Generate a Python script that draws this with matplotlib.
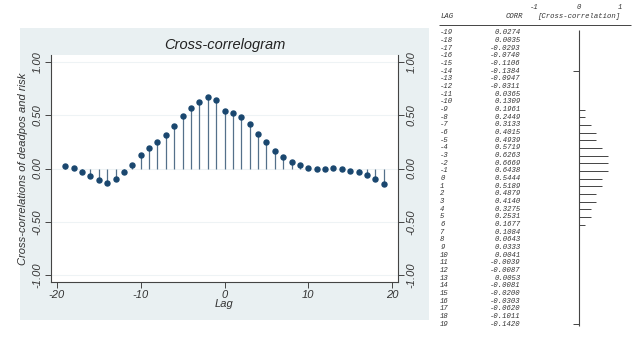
import numpy as np
import matplotlib
matplotlib.use("Agg")
import matplotlib.pyplot as plt
from matplotlib.patches import Rectangle

# cross-correlations
lags = list(range(-19, 20))
corr = [0.0274, 0.0035, -0.0293, -0.0740, -0.1106, -0.1384, -0.0947, -0.0311,
        0.0365, 0.1309, 0.1961, 0.2449, 0.3133, 0.4015, 0.4939, 0.5719,
        0.6263, 0.6669, 0.6438, 0.5444, 0.5189, 0.4879, 0.4140, 0.3275,
        0.2531, 0.1677, 0.1084, 0.0643, 0.0333, 0.0041, -0.0039, -0.0087,
        0.0053, -0.0081, -0.0200, -0.0303, -0.0620, -0.1011, -0.1420]
# text-bar length (in characters) shown next to each row
bar_chars = [0, 0, 0, 0, 0, -1, 0, 0, 0, 0, 1, 1, 2, 3, 3, 4, 5, 5, 5, 4,
             4, 3, 3, 2, 2, 1, 0, 0, 0, 0, 0, 0, 0, 0, 0, 0, 0, 0, -1]

yticks = [-1.0, -0.5, 0.0, 0.5, 1.0]
xticks = [-20, -10, 0, 10, 20]

navy = "#1a476f"
bg = "#e9f0f2"
W, H = 640, 337

plt.rcParams["font.family"] = ["Liberation Sans", "DejaVu Sans"]
fig = plt.figure(figsize=(W / 100, H / 100), dpi=100)

# graph region background
bgax = fig.add_axes([20 / W, 1 - 320 / H, 409 / W, 292 / H], zorder=-5)
bgax.set_facecolor(bg)
bgax.set_axis_off()
bgax.add_patch(Rectangle((0, 0), 1, 1, transform=bgax.transAxes, color=bg))

ax = fig.add_axes([51 / W, 1 - 282 / H, 347 / W, 227 / H])
ax.set_facecolor("white")
ax.vlines(lags, 0, corr, color="#54708a", linewidth=0.9, zorder=2)
ax.plot(lags, corr, "o", color=navy, markersize=3.6, zorder=3)
ax.set_xlim(-20.7, 20.7)
ax.set_ylim(-1.066, 1.066)
ax.set_xticks(xticks)
ax.set_xticklabels([str(v) for v in xticks], style="italic", fontsize=8, color="#333333")
ax.set_yticks(yticks)
ax.set_yticklabels([f"{v:.2f}" for v in yticks], style="italic", fontsize=8,
                   color="#333333", rotation=90, va="center")
ax.tick_params(axis="y", right=True, labelright=True, direction="out",
               length=4, width=0.7, color="#444444", pad=2)
ax.tick_params(axis="x", direction="out", length=4, width=0.7, color="#444444", pad=2)
for lab in ax.get_yticklabels(which="both"):
    lab.set_rotation(90)
for lab in ax.yaxis.get_ticklabels(which="both"):
    lab.set_rotation(90)
for t in ax.yaxis.get_major_ticks():
    t.label2.set_rotation(90)
    t.label2.set_va("center")
    t.label2.set_style("italic")
    t.label2.set_fontsize(8)
    t.label2.set_color("#333333")
ax.yaxis.grid(True, color="#eef3f5", linewidth=0.8)
ax.set_axisbelow(True)
for s in ["left", "right", "bottom"]:
    ax.spines[s].set_color("#444444")
    ax.spines[s].set_linewidth(0.8)
ax.spines["top"].set_visible(False)
ax.set_title("Cross-correlogram", style="italic", fontsize=10.5, color="#222222", pad=4)
ax.set_xlabel("Lag", style="italic", fontsize=8, color="#333333", labelpad=-1)
ax.set_ylabel("Cross-correlations of deadpos and risk", style="italic", fontsize=8,
              color="#333333", labelpad=3)

# corrgram-style text table on the right
tx = fig.add_axes([430 / W, 0, 210 / W, 1])
tx.set_axis_off()
row_h = 7.66
tx.set_ylim((H - 33) / row_h, -33 / row_h)
tx.set_xlim(-149 / 43, 61 / 43)
mono = dict(family=["Liberation Mono", "DejaVu Sans Mono"], style="italic",
            fontsize=5.2, color="#333333", va="center")
char_w = 0.135

tx.text(-3.23, -2.2, "LAG", ha="left", **mono)
tx.text(-1.50, -2.2, "CORR", ha="center", **mono)
tx.text(0.0, -2.2, "[Cross-correlation]", ha="center", **mono)
tx.text(-1.05, -3.3, "-1", ha="center", **mono)
tx.text(0.0, -3.3, "0", ha="center", **mono)
tx.text(0.95, -3.3, "1", ha="center", **mono)
tx.hlines(-1.05, -3.25, 1.2, color="#444444", linewidth=0.7)
tx.vlines(0, -0.4, len(lags) - 0.8, color="#444444", linewidth=0.8)
for i, (lag, c, n) in enumerate(zip(lags, corr, bar_chars)):
    tx.text(-3.23, i, str(lag), ha="left", **mono)
    tx.text(-1.35, i, f"{c:.4f}", ha="right", **mono)
    if n != 0:
        tx.hlines(i, 0, n * char_w, color="#444444", linewidth=0.7)

fig.savefig("out.png", dpi=100)
